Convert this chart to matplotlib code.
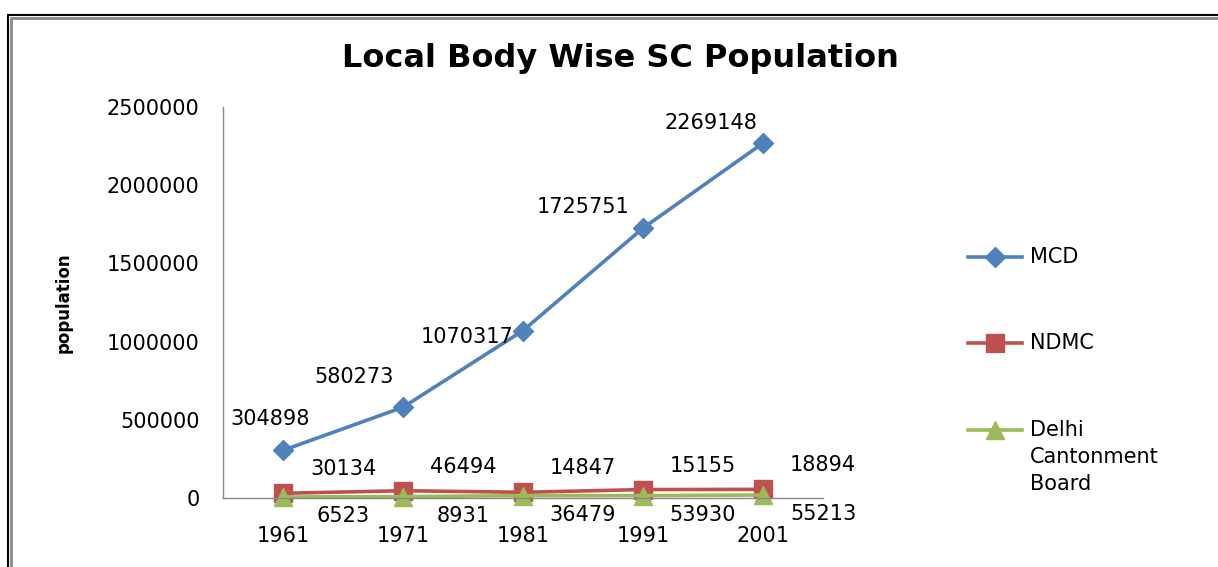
import matplotlib.pyplot as plt
from matplotlib.patches import Rectangle
from matplotlib.lines import Line2D

# Data
years = ['1961', '1971', '1981', '1991', '2001']
mcd = [304898, 580273, 1070317, 1725751, 2269148]
ndmc = [30134, 46494, 36479, 53930, 55213]
cantonment = [6523, 8931, 14847, 15155, 18894]
series_names = ['MCD', 'NDMC', 'Delhi\nCantonment\nBoard']

# the small-series labels are jumbled in the original, keep them that way
top_labels = [ndmc[0], ndmc[1], cantonment[2], cantonment[3], cantonment[4]]
bottom_labels = [cantonment[0], cantonment[1], ndmc[2], ndmc[3], ndmc[4]]

# pixel offsets of the MCD labels
mcd_offsets = [(-13, 31), (-49, 30), (-56, -6), (-60, 21), (-52, 20)]

plt.rcParams['font.family'] = 'DejaVu Sans'
FS = 15

W, H = 1218, 567
fig = plt.figure(figsize=(W / 100, H / 100), dpi=100)
ax = fig.add_axes([223 / W, 69 / H, 600 / W, 391 / H])

x = list(range(len(years)))

styles = [('#4F81BD', 'D', 10), ('#C0504D', 's', 13), ('#9BBB59', '^', 13)]
lines = []
for vals, (col, mk, ms), name in zip([mcd, ndmc, cantonment], styles, series_names):
    ln, = ax.plot(x, vals, color=col, lw=2.6, marker=mk, ms=ms, label=name,
                  clip_on=False)
    lines.append(ln)

for i, v in enumerate(mcd):
    ax.annotate(str(v), (i, v), xytext=mcd_offsets[i], textcoords='offset pixels',
                ha='center', va='center', fontsize=FS)

for i in x:
    ax.annotate(str(top_labels[i]), (i, ndmc[i]), xytext=(60, 24),
                textcoords='offset pixels', ha='center', va='center', fontsize=FS)
    ax.annotate(str(bottom_labels[i]), (i, cantonment[i]), xytext=(60, -19),
                textcoords='offset pixels', ha='center', va='center', fontsize=FS)

ax.set_xlim(-0.5, 4.5)
ax.set_ylim(0, 2500000)
ax.set_yticks([0, 500000, 1000000, 1500000, 2000000, 2500000])
ax.set_yticklabels(['0', '500000', '1000000', '1500000', '2000000', '2500000'])
ax.set_xticks(x)
ax.set_xticklabels(years)
ax.tick_params(axis='y', length=0, pad=17, labelsize=FS)
ax.tick_params(axis='x', length=0, pad=20, labelsize=FS)

for s in ['top', 'right']:
    ax.spines[s].set_visible(False)
for s in ['left', 'bottom']:
    ax.spines[s].set_color('#888888')
    ax.spines[s].set_linewidth(1)

ax.set_ylabel('population', fontsize=12, fontweight='bold', labelpad=0)
ax.yaxis.set_label_coords(-150 / 600, 0.5)

fig.text(620 / W, 1 - 58 / H, 'Local Body Wise SC Population',
         ha='center', va='center', fontsize=23, fontweight='bold')

# legend drawn by hand so the marker sits on the first text line
legend_y = [257, 343, 430]
for ln, y in zip(lines, legend_y):
    fy = 1 - y / H
    fig.add_artist(Line2D([968 / W, 1022 / W], [fy, fy], color=ln.get_color(),
                          lw=ln.get_linewidth(), transform=fig.transFigure))
    fig.add_artist(Line2D([995 / W], [fy], color=ln.get_color(), marker=ln.get_marker(),
                          ms=ln.get_markersize(), transform=fig.transFigure))
    for k, part in enumerate(ln.get_label().split('\n')):
        fig.text(1030 / W, 1 - (y + k * 27) / H, part, ha='left', va='center', fontsize=FS)

# outer frame, cut off at right and bottom like the source
fig.patches.append(Rectangle((8 / W, -0.1), 1.2, (H - 15) / H + 0.1,
                             transform=fig.transFigure, fill=False,
                             edgecolor='black', lw=1.5))
fig.patches.append(Rectangle((11 / W, -0.1), 1.2, (H - 18) / H + 0.1,
                             transform=fig.transFigure, fill=False,
                             edgecolor='#888888', lw=2))

fig.savefig('out.png', dpi=100)
